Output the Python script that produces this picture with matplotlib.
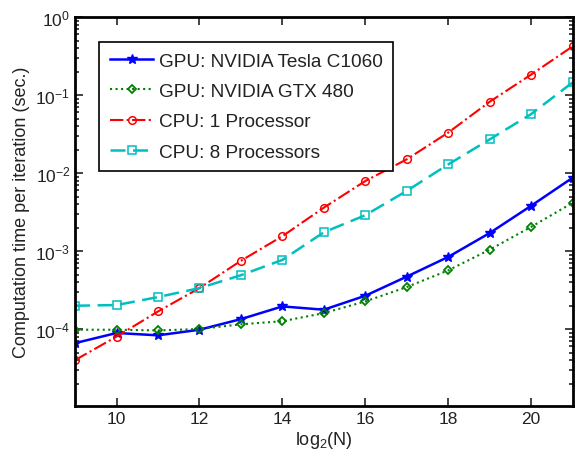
import numpy as np
import matplotlib
matplotlib.use('Agg')
import matplotlib.pyplot as plt
from matplotlib.ticker import LogLocator, NullFormatter

plt.rcParams['font.family'] = ['Liberation Sans', 'DejaVu Sans']
plt.rcParams['mathtext.fontset'] = 'custom'
plt.rcParams['mathtext.rm'] = 'Liberation Sans'
plt.rcParams['mathtext.it'] = 'Liberation Sans:italic'

# --- data ---
log2n = [9, 10, 11, 12, 13, 14, 15, 16, 17, 18, 19, 20, 21]
gpu_tesla = [6.6e-5, 8.9e-5, 8.3e-5, 9.8e-5, 1.34e-4, 1.95e-4, 1.77e-4,
             2.67e-4, 4.7e-4, 8.4e-4, 1.7e-3, 3.8e-3, 8.7e-3]
gpu_gtx = [9.8e-5, 9.8e-5, 9.6e-5, 1.0e-4, 1.15e-4, 1.26e-4, 1.6e-4,
           2.26e-4, 3.45e-4, 5.65e-4, 1.04e-3, 2.04e-3, 4.15e-3]
cpu_1 = [4.0e-5, 8.0e-5, 1.68e-4, 3.35e-4, 7.5e-4, 1.55e-3, 3.6e-3,
         7.9e-3, 1.5e-2, 3.3e-2, 8.2e-2, 0.183, 0.42]
cpu_8 = [1.99e-4, 2.03e-4, 2.57e-4, 3.35e-4, 4.9e-4, 7.7e-4, 1.74e-3,
         2.88e-3, 5.9e-3, 1.29e-2, 2.7e-2, 5.7e-2, 0.145]
labels = ['GPU: NVIDIA Tesla C1060', 'GPU: NVIDIA GTX 480',
          'CPU: 1 Processor', 'CPU: 8 Processors']

fig = plt.figure(figsize=(5.79, 4.64), dpi=100)
ax = fig.add_axes([0.1297, 0.1228, 0.9888 - 0.1297, 0.961 - 0.1228])

ax.semilogy(log2n, gpu_tesla, '-', color='#0000ff', lw=1.8, marker='*',
            ms=7, label=labels[0])
ax.semilogy(log2n, gpu_gtx, ':', color='#008000', lw=1.5, marker='D', ms=4,
            mfc='none', mew=1.3, label=labels[1])
ax.semilogy(log2n, cpu_1, '-.', color='#ff0000', lw=1.5, marker='o', ms=5.5,
            mfc='none', mew=1.1, label=labels[2])
ax.semilogy(log2n, cpu_8, '--', color='#00bfbf', lw=1.8, marker='s', ms=5.5,
            mfc='none', mew=1.1, label=labels[3], dashes=(6, 3))

ax.set_xlim(9, 21)
ax.set_ylim(1.03e-5, 1)
ax.set_xticks([10, 12, 14, 16, 18, 20])
ax.yaxis.set_major_locator(LogLocator(base=10, numticks=10))
ax.yaxis.set_minor_locator(LogLocator(base=10, subs=np.arange(2, 10), numticks=20))
ax.yaxis.set_minor_formatter(NullFormatter())

ax.tick_params(which='both', direction='in', top=True, right=True,
               labelsize=12.5, width=1.2, colors='#222222')
ax.tick_params(which='major', length=6)
ax.tick_params(which='minor', length=3)
for sp in ax.spines.values():
    sp.set_linewidth(2)

ax.set_xlabel('log$_2$(N)', fontsize=13, color='#222222', labelpad=2)
ax.set_ylabel('Computation time per iteration (sec.)', fontsize=13,
              color='#222222', labelpad=4)

leg = ax.legend(loc='upper left', bbox_to_anchor=(0.0485, 0.936),
                borderaxespad=0, fontsize=13.7, fancybox=False, framealpha=1,
                edgecolor='black', handlelength=2.3, handletextpad=0.3,
                borderpad=0.55, labelspacing=0.68)
leg.get_frame().set_linewidth(1.2)
for t in leg.get_texts():
    t.set_color('#222222')

fig.savefig('out.png', dpi=100)
